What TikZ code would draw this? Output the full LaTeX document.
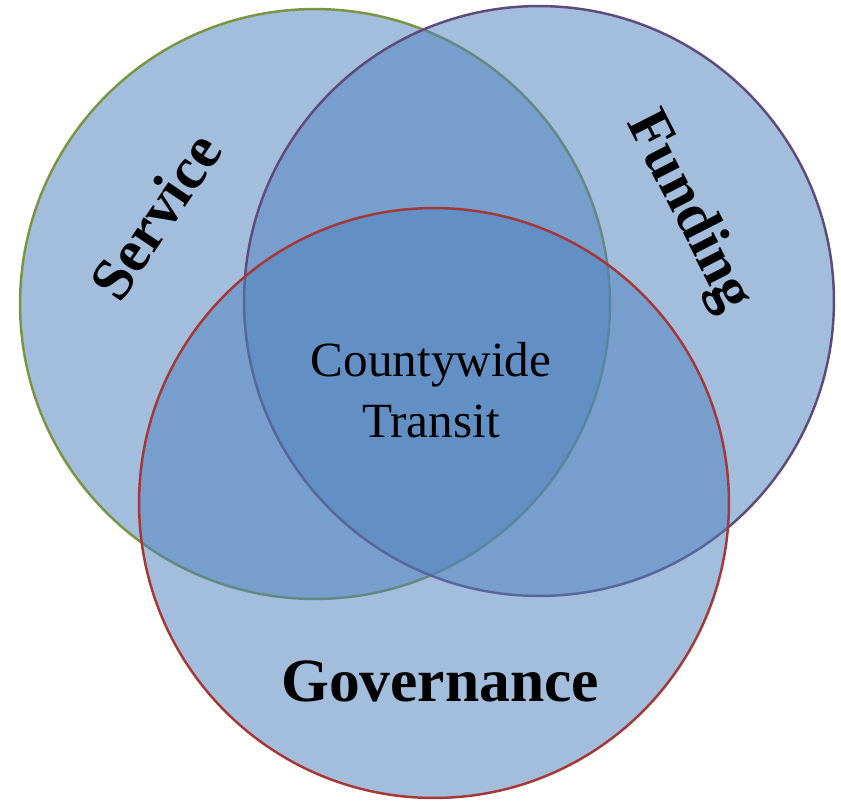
\documentclass[tikz,border=0pt]{standalone}
\usepackage{fontspec}
\setmainfont{Liberation Serif}
\usepackage{tikz}
\usetikzlibrary{arrows}

\definecolor{vennblue}{RGB}{79,129,189}
\definecolor{servicegreen}{RGB}{122,148,66}
\definecolor{fundingpurple}{RGB}{96,74,123}
\definecolor{govred}{RGB}{165,55,55}

\begin{document}
\begin{tikzpicture}[x=0.02cm,y=-0.02cm,thick,
  set node/.style={circle,inner sep=0pt,minimum size=11.8cm,line width=1.4pt,
        fill=vennblue,fill opacity=0.52},
  label node/.style={text=black,font=\fontsize{34}{40}\selectfont\bfseries},
  core node/.style={text=black,align=center,font=\fontsize{28}{35}\selectfont}]
  \useasboundingbox (0,0) rectangle (841,802);

  % the three sets
  \node[set node,draw=servicegreen] (service) at (315,304) {};
  \node[set node,draw=fundingpurple] (funding) at (539,301) {};
  \node[set node,draw=govred] (governance) at (434,503) {};

  % labels
  \node[label node,rotate=56] (servicetext) at (155,216) {Service};
  \node[label node,rotate=-63] (fundingtext) at (688,212) {Funding};
  \node[label node,font=\fontsize{35}{40}\selectfont\bfseries] (governancetext) at (440,681) {Governance};
  \node[core node] (countywide) at (431,390) {Countywide\\Transit};
\end{tikzpicture}
\end{document}
